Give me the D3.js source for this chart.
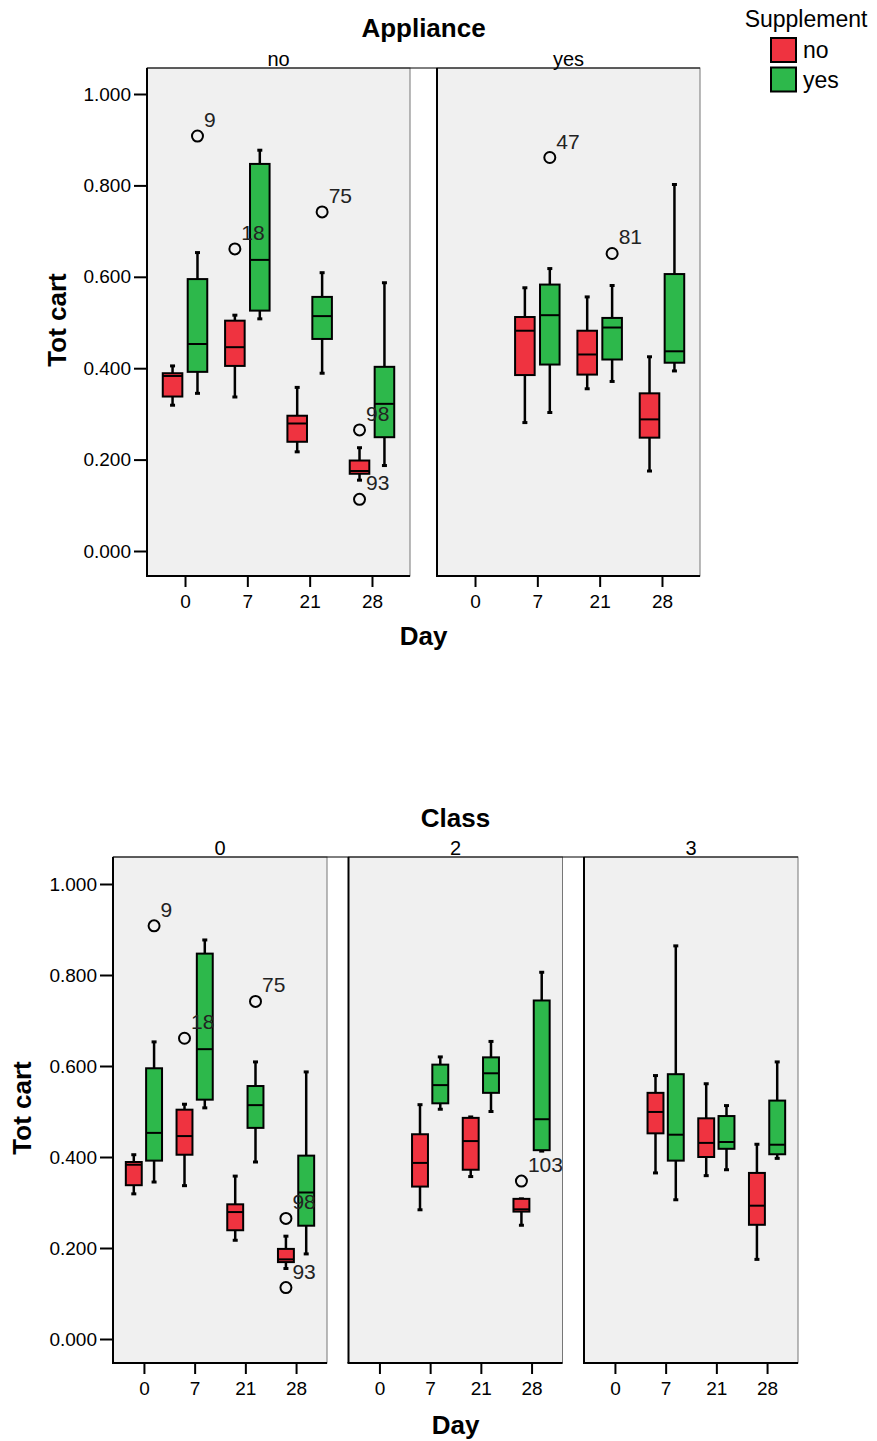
<!DOCTYPE html>
<html>
<head>
<meta charset="utf-8">
<script src="https://cdn.jsdelivr.net/npm/d3@7"></script>
<style>
  body { margin: 0; background: #fff; }
  svg { display: block; font-family: "Liberation Sans", Arial, sans-serif; }
</style>
</head>
<body>
<svg id="chart" width="877" height="1441"></svg>
<script>
// ---------------- DATA ----------------
const days = ["0", "7", "21", "28"];
const supplements = ["no", "yes"];
const yTicks = [0, 0.2, 0.4, 0.6, 0.8, 1.0];
const applianceLevels = ["no", "yes"];
const classLevels = ["0", "2", "3"];

// box statistics: lo whisker, q1, median, q3, hi whisker
const boxesApplianceNo = [
  { day: "0",  sup: "no",  lo: 0.319, q1: 0.338, med: 0.383, q3: 0.389, hi: 0.405 },
  { day: "0",  sup: "yes", lo: 0.345, q1: 0.392, med: 0.453, q3: 0.595, hi: 0.653 },
  { day: "7",  sup: "no",  lo: 0.337, q1: 0.405, med: 0.446, q3: 0.504, hi: 0.516 },
  { day: "7",  sup: "yes", lo: 0.508, q1: 0.526, med: 0.637, q3: 0.847, hi: 0.877 },
  { day: "21", sup: "no",  lo: 0.217, q1: 0.239, med: 0.279, q3: 0.296, hi: 0.358 },
  { day: "21", sup: "yes", lo: 0.389, q1: 0.464, med: 0.514, q3: 0.556, hi: 0.609 },
  { day: "28", sup: "no",  lo: 0.155, q1: 0.169, med: 0.175, q3: 0.198, hi: 0.226 },
  { day: "28", sup: "yes", lo: 0.187, q1: 0.249, med: 0.322, q3: 0.403, hi: 0.587 }
];
const outliersApplianceNo = [
  { day: "0",  sup: "yes", v: 0.908, id: "9" },
  { day: "7",  sup: "no",  v: 0.661, id: "18" },
  { day: "21", sup: "yes", v: 0.742, id: "75" },
  { day: "28", sup: "no",  v: 0.265, id: "98" },
  { day: "28", sup: "no",  v: 0.113, id: "93" }
];

const boxesApplianceYes = [
  { day: "7",  sup: "no",  lo: 0.281, q1: 0.385, med: 0.482, q3: 0.512, hi: 0.576 },
  { day: "7",  sup: "yes", lo: 0.303, q1: 0.408, med: 0.516, q3: 0.583, hi: 0.618 },
  { day: "21", sup: "no",  lo: 0.355, q1: 0.386, med: 0.430, q3: 0.482, hi: 0.556 },
  { day: "21", sup: "yes", lo: 0.371, q1: 0.419, med: 0.489, q3: 0.510, hi: 0.581 },
  { day: "28", sup: "no",  lo: 0.175, q1: 0.248, med: 0.288, q3: 0.345, hi: 0.425 },
  { day: "28", sup: "yes", lo: 0.394, q1: 0.412, med: 0.437, q3: 0.606, hi: 0.802 }
];
const outliersApplianceYes = [
  { day: "7",  sup: "yes", v: 0.861, id: "47" },
  { day: "21", sup: "yes", v: 0.651, id: "81" }
];

const boxesClass0 = boxesApplianceNo;
const outliersClass0 = outliersApplianceNo;

const boxesClass2 = [
  { day: "7",  sup: "no",  lo: 0.284, q1: 0.335, med: 0.387, q3: 0.450, hi: 0.515 },
  { day: "7",  sup: "yes", lo: 0.505, q1: 0.518, med: 0.558, q3: 0.603, hi: 0.620 },
  { day: "21", sup: "no",  lo: 0.357, q1: 0.372, med: 0.435, q3: 0.486, hi: 0.488 },
  { day: "21", sup: "yes", lo: 0.500, q1: 0.541, med: 0.584, q3: 0.619, hi: 0.654 },
  { day: "28", sup: "no",  lo: 0.250, q1: 0.280, med: 0.285, q3: 0.308, hi: 0.308 },
  { day: "28", sup: "yes", lo: 0.413, q1: 0.415, med: 0.483, q3: 0.744, hi: 0.806 }
];
const outliersClass2 = [
  { day: "28", sup: "no", v: 0.347, id: "103" }
];

const boxesClass3 = [
  { day: "7",  sup: "no",  lo: 0.365, q1: 0.452, med: 0.499, q3: 0.541, hi: 0.579 },
  { day: "7",  sup: "yes", lo: 0.306, q1: 0.392, med: 0.449, q3: 0.582, hi: 0.864 },
  { day: "21", sup: "no",  lo: 0.359, q1: 0.400, med: 0.431, q3: 0.485, hi: 0.561 },
  { day: "21", sup: "yes", lo: 0.372, q1: 0.418, med: 0.433, q3: 0.490, hi: 0.513 },
  { day: "28", sup: "no",  lo: 0.175, q1: 0.251, med: 0.293, q3: 0.365, hi: 0.428 },
  { day: "28", sup: "yes", lo: 0.397, q1: 0.406, med: 0.427, q3: 0.524, hi: 0.609 }
];
const outliersClass3 = [];

// ---------------- STYLE ----------------
const color = d3.scaleOrdinal().domain(supplements).range(["#ef3340", "#2db84b"]);
const panelBg = "#f0f0f0";
const FONT = "Liberation Sans, Arial, sans-serif";

const svg = d3.select("#chart");

function drawFacetChart(opt) {
  const g = svg.append("g");
  const y = d3.scaleLinear().domain([0, 1]).range([opt.y0, opt.y1]);

  const panelX = d3.scaleBand().domain(opt.levels)
    .range([opt.left, opt.right]).paddingInner(opt.gapRatio).paddingOuter(0);
  const pw = panelX.bandwidth();

  // title
  g.append("text").attr("x", (opt.left + opt.right) / 2).attr("y", opt.titleY)
    .attr("text-anchor", "middle").attr("font-size", 26).attr("font-weight", "bold")
    .text(opt.title);

  opt.panels.forEach((p, i) => {
    const px = panelX(opt.levels[i]);
    const x = d3.scalePoint().domain(days).range([px, px + pw]).padding(0.61);
    const step = x.step();
    const x1 = d3.scaleBand().domain(supplements)
      .range([-0.357 * step, 0.357 * step]).paddingInner(0.215);
    const bw = x1.bandwidth();

    const pg = g.append("g");
    pg.append("rect").attr("x", px).attr("y", opt.top).attr("width", pw)
      .attr("height", opt.bottom - opt.top).attr("fill", panelBg)
      .attr("stroke", "#777").attr("stroke-width", 1);

    // panel label
    pg.append("text").attr("x", px + pw / 2).attr("y", opt.top - 2)
      .attr("text-anchor", "middle").attr("font-size", 20).text(opt.levels[i]);

    // boxes
    const bx = d => x(d.day) + x1(d.sup);
    const bg = pg.selectAll("g.box").data(p.boxes).join("g").attr("class", "box");
    bg.append("line")
      .attr("x1", d => bx(d) + bw / 2).attr("x2", d => bx(d) + bw / 2)
      .attr("y1", d => y(d.hi)).attr("y2", d => y(d.q3))
      .attr("stroke", "#000").attr("stroke-width", 2.5);
    bg.append("line")
      .attr("x1", d => bx(d) + bw / 2).attr("x2", d => bx(d) + bw / 2)
      .attr("y1", d => y(d.q1)).attr("y2", d => y(d.lo))
      .attr("stroke", "#000").attr("stroke-width", 2.5);
    ["hi", "lo"].forEach(k => {
      bg.append("line")
        .attr("x1", d => bx(d) + bw / 2 - 2.5).attr("x2", d => bx(d) + bw / 2 + 2.5)
        .attr("y1", d => y(d[k])).attr("y2", d => y(d[k]))
        .attr("stroke", "#000").attr("stroke-width", 3);
    });
    bg.append("rect")
      .attr("x", d => bx(d)).attr("width", bw)
      .attr("y", d => y(d.q3)).attr("height", d => y(d.q1) - y(d.q3))
      .attr("fill", d => color(d.sup)).attr("stroke", "#000").attr("stroke-width", 2);
    bg.append("line")
      .attr("x1", d => bx(d)).attr("x2", d => bx(d) + bw)
      .attr("y1", d => y(d.med)).attr("y2", d => y(d.med))
      .attr("stroke", "#000").attr("stroke-width", 2);

    // outliers
    const og = pg.selectAll("g.out").data(p.outliers).join("g").attr("class", "out");
    og.append("circle")
      .attr("cx", d => bx(d) + bw / 2).attr("cy", d => y(d.v)).attr("r", 5.5)
      .attr("fill", "none").attr("stroke", "#000").attr("stroke-width", 2);
    og.append("text")
      .attr("x", d => bx(d) + bw / 2 + 6.5).attr("y", d => y(d.v) - 9)
      .attr("font-size", 21).attr("fill", "#222").text(d => d.id);

    // x axis
    const xa = pg.append("g").attr("transform", `translate(0,${opt.bottom})`)
      .call(d3.axisBottom(x).tickSize(11).tickPadding(8));
    xa.select(".domain").remove();
    xa.selectAll(".tick line").attr("stroke", "#000").attr("stroke-width", 2);
    xa.selectAll(".tick text").attr("font-size", 19).attr("fill", "#000")
      .attr("font-family", FONT);
    pg.append("line").attr("x1", px - 1).attr("x2", px + pw).attr("y1", opt.bottom).attr("y2", opt.bottom)
      .attr("stroke", "#000").attr("stroke-width", 2);
    pg.append("line").attr("x1", px).attr("x2", px).attr("y1", opt.top).attr("y2", opt.bottom)
      .attr("stroke", "#000").attr("stroke-width", 2);

    if (i === 0) {
      const ya = pg.append("g").attr("transform", `translate(${px},0)`)
        .call(d3.axisLeft(y).tickValues(yTicks).tickFormat(d3.format(".3f")).tickSize(13).tickPadding(3));
      ya.select(".domain").remove();
      ya.selectAll(".tick line").attr("stroke", "#000").attr("stroke-width", 2);
      ya.selectAll(".tick text").attr("font-size", 19).attr("fill", "#000")
        .attr("font-family", FONT);
    }
  });

  // continuous top line
  g.append("line").attr("x1", opt.left).attr("x2", opt.right)
    .attr("y1", opt.top).attr("y2", opt.top).attr("stroke", "#000").attr("stroke-width", 1);

  // axis titles
  g.append("text").attr("x", (opt.left + opt.right) / 2).attr("y", opt.dayY)
    .attr("text-anchor", "middle").attr("font-size", 26).attr("font-weight", "bold").text("Day");
  g.append("text").attr("transform", `translate(${opt.ytitleX},${(opt.top + opt.bottom) / 2 - 2}) rotate(-90)`)
    .attr("text-anchor", "middle").attr("dy", "0.35em")
    .attr("font-size", 26).attr("font-weight", "bold").text("Tot cart");
}

drawFacetChart({
  title: "Appliance", titleY: 37, levels: applianceLevels,
  panels: [
    { boxes: boxesApplianceNo, outliers: outliersApplianceNo },
    { boxes: boxesApplianceYes, outliers: outliersApplianceYes }
  ],
  left: 147, right: 700, gapRatio: 27 / 290, top: 68, bottom: 576, y0: 551, y1: 94,
  dayY: 645, ytitleX: 57
});

drawFacetChart({
  title: "Class", titleY: 827, levels: classLevels,
  panels: [
    { boxes: boxesClass0, outliers: outliersClass0 },
    { boxes: boxesClass2, outliers: outliersClass2 },
    { boxes: boxesClass3, outliers: outliersClass3 }
  ],
  left: 113, right: 798, gapRatio: 21.5 / 235.5, top: 857, bottom: 1363, y0: 1339, y1: 884,
  dayY: 1434, ytitleX: 22
});

// legend
const lg = svg.append("g");
lg.append("text").attr("x", 806).attr("y", 27).attr("text-anchor", "middle")
  .attr("font-size", 23).text("Supplement");
supplements.forEach((s, i) => {
  lg.append("rect").attr("x", 771).attr("y", 38 + i * 29.5).attr("width", 25).attr("height", 24)
    .attr("fill", color(s)).attr("stroke", "#000").attr("stroke-width", 2);
  lg.append("text").attr("x", 803).attr("y", 58 + i * 29.5).attr("font-size", 23).text(s);
});
</script>
</body>
</html>
